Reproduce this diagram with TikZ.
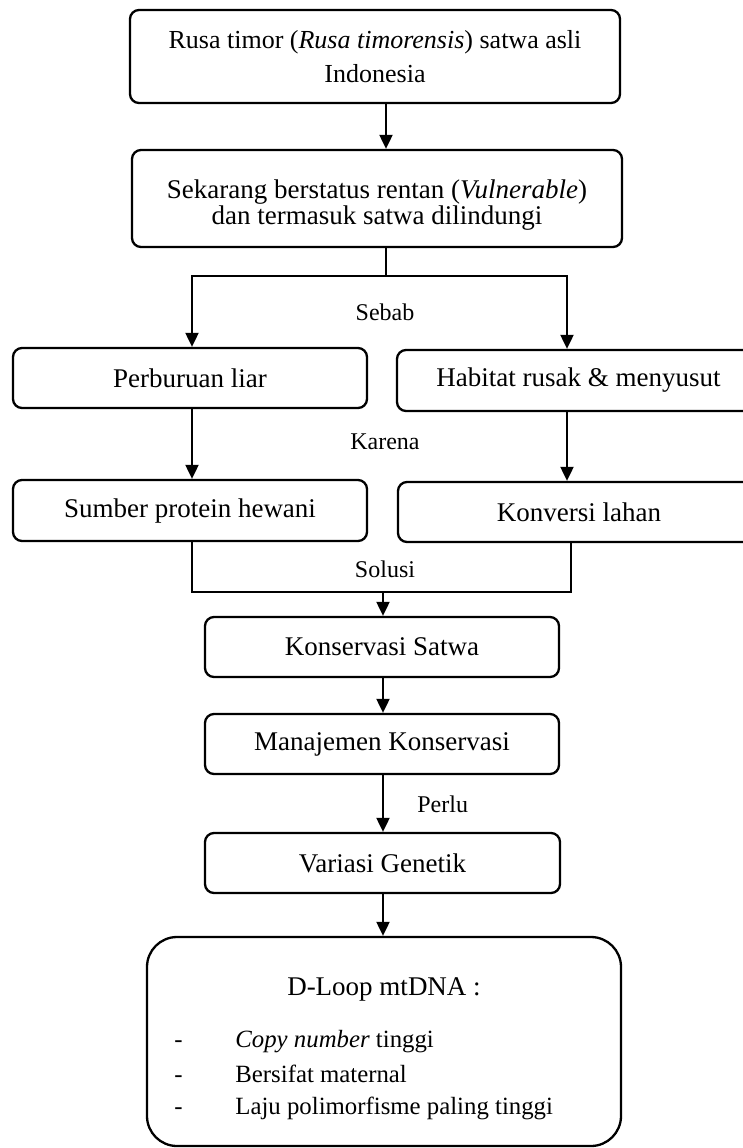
\documentclass[tikz,border=0pt]{standalone}
\usepackage{fontspec}
\setmainfont{Liberation Serif}
\usetikzlibrary{arrows.meta}
\begin{document}
\begin{tikzpicture}[x=0.5pt,y=-0.5pt,
  box/.style={draw,line width=1.15pt,rounded corners=4.5pt,align=center,inner sep=0pt,
    font=\fontsize{13.5}{17.5}\selectfont},
  txt/.style={align=center,inner sep=0pt},
  lbl/.style={font=\fontsize{12}{14}\selectfont,anchor=base,inner sep=0pt},
  item/.style={font=\fontsize{12.4}{14}\selectfont,anchor=base west,inner sep=0pt},
  conn/.style={line width=1pt},
  arr/.style={line width=1pt,-{Triangle[length=7pt,width=6.5pt]}}]
\clip (0,0) rectangle (743,1148);
% boxes
\node[box,minimum width=245pt,minimum height=46.5pt,font=\fontsize{13}{17}\selectfont] (b1) at (375,56.5)
  {Rusa timor (\textit{Rusa timorensis}) satwa asli\\Indonesia};
\node[box,minimum width=245pt,minimum height=48.5pt] (b2) at (377,198.5) {};
\node[txt,font=\fontsize{13.5}{12.8}\selectfont] (b2t) at (377,205)
  {Sekarang berstatus rentan (\textit{Vulnerable})\\dan termasuk satwa dilindungi};
\node[box,minimum width=177pt,minimum height=30pt] (pl) at (190,378) {Perburuan liar};
\node[box,minimum width=181.5pt,minimum height=30.5pt] (hr) at (578.5,380.5) {Habitat rusak \& menyusut};
\node[box,minimum width=177pt,minimum height=30.5pt] (sp) at (190,510.5) {Sumber protein hewani};
\node[box,minimum width=181pt,minimum height=30pt] (kl) at (579,512) {Konversi lahan};
\node[box,minimum width=177pt,minimum height=30pt] (ks) at (382,647) {Konservasi Satwa};
\node[box,minimum width=177pt,minimum height=30pt] (mk) at (382,744) {Manajemen Konservasi};
\node[box,minimum width=177.5pt,minimum height=30pt] (vg) at (382.5,863) {Variasi Genetik};
\node[box,rounded corners=15pt,minimum width=237pt,minimum height=104.5pt] (dl) at (384,1041.5) {};
% contents of D-Loop box
\node[anchor=base,inner sep=0pt,font=\fontsize{13.5}{14}\selectfont] (dlt) at (384,995) {D-Loop mtDNA :};
\node[item] (d1) at (174,1047) {-};
\node[item] (i1) at (235,1047) {\textit{Copy number} tinggi};
\node[item] (d2) at (174,1082) {-};
\node[item] (i2) at (235,1082) {Bersifat maternal};
\node[item] (d3) at (174,1114) {-};
\node[item] (i3) at (235,1114) {Laju polimorfisme paling tinggi};
% coordinates
\coordinate (xa) at (386,0);
\coordinate (xl) at (192,0);
\coordinate (xr) at (567,0);
\coordinate (xc) at (383,0);
\coordinate (split) at (386,276);
\coordinate (join) at (383,592);
% connectors
\draw[arr] (b1.south -| xa) -- (b2.north -| xa);
\draw[conn] (b2.south -| xa) -- (split);
\draw[arr] (split -| xr) -- (xl |- split) -- (pl.north -| xl);
\draw[arr] (split) -- (split -| xr) -- (hr.north -| xr);
\draw[arr] (pl.south -| xl) -- (sp.north -| xl);
\draw[arr] (hr.south -| xr) -- (kl.north -| xr);
\draw[conn] (sp.south -| xl) -- (xl |- join) -- (571,592) -- (kl.south -| 571,0);
\draw[arr] (join) -- (ks.north -| xc);
\draw[arr] (ks.south -| xc) -- (mk.north -| xc);
\draw[arr] (mk.south -| xc) -- (vg.north -| xc);
\draw[arr] (vg.south -| xc) -- (dl.north -| xc);
% labels
\node[lbl] (l1) at (385,320) {Sebab};
\node[lbl] (l2) at (385,449) {Karena};
\node[lbl] (l3) at (385,577) {Solusi};
\node[lbl,anchor=base west] (l4) at (417,812) {Perlu};
\end{tikzpicture}
\end{document}
